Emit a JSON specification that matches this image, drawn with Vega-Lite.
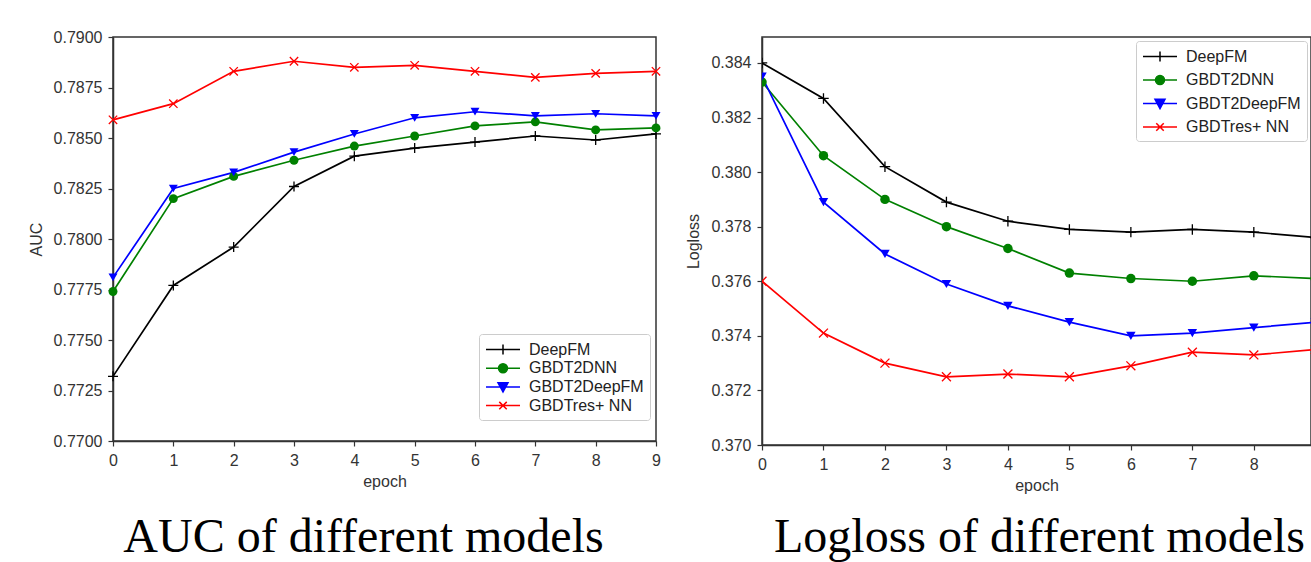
{
  "$schema": "https://vega.github.io/schema/vega-lite/v6.json",
  "background": "white",
  "padding": {"left": 27, "top": 28, "right": 0, "bottom": 0},
  "spacing": 20,
  "config": {
    "view": {"stroke": "#333", "strokeWidth": 1.5},
    "axis": {"labelFont": "Liberation Sans", "labelFontSize": 16, "labelColor": "#333", "labelPadding": 6, "titleFont": "Liberation Sans", "titleFontSize": 16, "titleFontWeight": "normal", "titleColor": "#333", "domainColor": "#333", "domainWidth": 1.5, "tickColor": "#333", "tickWidth": 1.2, "tickSize": 5, "grid": false},
    "legend": {"labelFont": "Liberation Sans", "labelFontSize": 16, "labelColor": "#222", "fillColor": "white", "strokeColor": "#cccccc", "cornerRadius": 3, "symbolStrokeWidth": 1.5, "symbolSize": 289, "labelOffset": 25}
  },
  "datasets": {
    "auc": [
      {"epoch": 0, "series": "DeepFM", "v": 0.7732}, {"epoch": 1, "series": "DeepFM", "v": 0.7777}, {"epoch": 2, "series": "DeepFM", "v": 0.7796}, {"epoch": 3, "series": "DeepFM", "v": 0.7826}, {"epoch": 4, "series": "DeepFM", "v": 0.7841}, {"epoch": 5, "series": "DeepFM", "v": 0.7845}, {"epoch": 6, "series": "DeepFM", "v": 0.7848}, {"epoch": 7, "series": "DeepFM", "v": 0.7851}, {"epoch": 8, "series": "DeepFM", "v": 0.7849}, {"epoch": 9, "series": "DeepFM", "v": 0.7852},
      {"epoch": 0, "series": "GBDT2DNN", "v": 0.7774}, {"epoch": 1, "series": "GBDT2DNN", "v": 0.7820}, {"epoch": 2, "series": "GBDT2DNN", "v": 0.7831}, {"epoch": 3, "series": "GBDT2DNN", "v": 0.7839}, {"epoch": 4, "series": "GBDT2DNN", "v": 0.7846}, {"epoch": 5, "series": "GBDT2DNN", "v": 0.7851}, {"epoch": 6, "series": "GBDT2DNN", "v": 0.7856}, {"epoch": 7, "series": "GBDT2DNN", "v": 0.7858}, {"epoch": 8, "series": "GBDT2DNN", "v": 0.7854}, {"epoch": 9, "series": "GBDT2DNN", "v": 0.7855},
      {"epoch": 0, "series": "GBDT2DeepFM", "v": 0.7781}, {"epoch": 1, "series": "GBDT2DeepFM", "v": 0.7825}, {"epoch": 2, "series": "GBDT2DeepFM", "v": 0.7833}, {"epoch": 3, "series": "GBDT2DeepFM", "v": 0.7843}, {"epoch": 4, "series": "GBDT2DeepFM", "v": 0.7852}, {"epoch": 5, "series": "GBDT2DeepFM", "v": 0.7860}, {"epoch": 6, "series": "GBDT2DeepFM", "v": 0.7863}, {"epoch": 7, "series": "GBDT2DeepFM", "v": 0.7861}, {"epoch": 8, "series": "GBDT2DeepFM", "v": 0.7862}, {"epoch": 9, "series": "GBDT2DeepFM", "v": 0.7861},
      {"epoch": 0, "series": "GBDTres+ NN", "v": 0.7859}, {"epoch": 1, "series": "GBDTres+ NN", "v": 0.7867}, {"epoch": 2, "series": "GBDTres+ NN", "v": 0.7883}, {"epoch": 3, "series": "GBDTres+ NN", "v": 0.7888}, {"epoch": 4, "series": "GBDTres+ NN", "v": 0.7885}, {"epoch": 5, "series": "GBDTres+ NN", "v": 0.7886}, {"epoch": 6, "series": "GBDTres+ NN", "v": 0.7883}, {"epoch": 7, "series": "GBDTres+ NN", "v": 0.7880}, {"epoch": 8, "series": "GBDTres+ NN", "v": 0.7882}, {"epoch": 9, "series": "GBDTres+ NN", "v": 0.7883}
    ],
    "logloss": [
      {"epoch": 0, "series": "DeepFM", "v": 0.3840}, {"epoch": 1, "series": "DeepFM", "v": 0.3827}, {"epoch": 2, "series": "DeepFM", "v": 0.3802}, {"epoch": 3, "series": "DeepFM", "v": 0.3789}, {"epoch": 4, "series": "DeepFM", "v": 0.3782}, {"epoch": 5, "series": "DeepFM", "v": 0.3779}, {"epoch": 6, "series": "DeepFM", "v": 0.3778}, {"epoch": 7, "series": "DeepFM", "v": 0.3779}, {"epoch": 8, "series": "DeepFM", "v": 0.3778}, {"epoch": 9, "series": "DeepFM", "v": 0.3776},
      {"epoch": 0, "series": "GBDT2DNN", "v": 0.3833}, {"epoch": 1, "series": "GBDT2DNN", "v": 0.3806}, {"epoch": 2, "series": "GBDT2DNN", "v": 0.3790}, {"epoch": 3, "series": "GBDT2DNN", "v": 0.3780}, {"epoch": 4, "series": "GBDT2DNN", "v": 0.3772}, {"epoch": 5, "series": "GBDT2DNN", "v": 0.3763}, {"epoch": 6, "series": "GBDT2DNN", "v": 0.3761}, {"epoch": 7, "series": "GBDT2DNN", "v": 0.3760}, {"epoch": 8, "series": "GBDT2DNN", "v": 0.3762}, {"epoch": 9, "series": "GBDT2DNN", "v": 0.3761},
      {"epoch": 0, "series": "GBDT2DeepFM", "v": 0.3835}, {"epoch": 1, "series": "GBDT2DeepFM", "v": 0.3789}, {"epoch": 2, "series": "GBDT2DeepFM", "v": 0.3770}, {"epoch": 3, "series": "GBDT2DeepFM", "v": 0.3759}, {"epoch": 4, "series": "GBDT2DeepFM", "v": 0.3751}, {"epoch": 5, "series": "GBDT2DeepFM", "v": 0.3745}, {"epoch": 6, "series": "GBDT2DeepFM", "v": 0.3740}, {"epoch": 7, "series": "GBDT2DeepFM", "v": 0.3741}, {"epoch": 8, "series": "GBDT2DeepFM", "v": 0.3743}, {"epoch": 9, "series": "GBDT2DeepFM", "v": 0.3745},
      {"epoch": 0, "series": "GBDTres+ NN", "v": 0.3760}, {"epoch": 1, "series": "GBDTres+ NN", "v": 0.3741}, {"epoch": 2, "series": "GBDTres+ NN", "v": 0.3730}, {"epoch": 3, "series": "GBDTres+ NN", "v": 0.3725}, {"epoch": 4, "series": "GBDTres+ NN", "v": 0.3726}, {"epoch": 5, "series": "GBDTres+ NN", "v": 0.3725}, {"epoch": 6, "series": "GBDTres+ NN", "v": 0.3729}, {"epoch": 7, "series": "GBDTres+ NN", "v": 0.3734}, {"epoch": 8, "series": "GBDTres+ NN", "v": 0.3733}, {"epoch": 9, "series": "GBDTres+ NN", "v": 0.3735}
    ]
  },
  "hconcat": [
    {
      "width": 543,
      "height": 404,
      "data": {"name": "auc"},
      "title": {"text": "AUC of different models", "orient": "bottom", "font": "Liberation Serif", "fontSize": 48, "fontWeight": "normal", "color": "#000", "offset": 25, "frame": "group", "dx": -21},
      "encoding": {
        "x": {"field": "epoch", "type": "quantitative", "scale": {"domain": [0, 9], "nice": false, "zero": false}, "axis": {"values": [0, 1, 2, 3, 4, 5, 6, 7, 8, 9], "format": "d", "title": "epoch", "labelFlush": false, "titlePadding": 5}},
        "y": {"field": "v", "type": "quantitative", "scale": {"domain": [0.77, 0.79], "nice": false, "zero": false}, "axis": {"values": [0.77, 0.7725, 0.775, 0.7775, 0.78, 0.7825, 0.785, 0.7875, 0.79], "format": ".4f", "title": "AUC", "labelFlush": false, "titlePadding": 9}}
      },
      "layer": [
        {"mark": {"type": "line", "strokeWidth": 1.7}, "encoding": {"color": {"field": "series", "type": "nominal", "scale": {"domain": ["DeepFM", "GBDT2DNN", "GBDT2DeepFM", "GBDTres+ NN"], "range": ["#000000", "#008000", "#0000ff", "#ff0000"]}, "legend": null}}},
        {"transform": [{"filter": "datum.series == 'DeepFM'"}], "mark": {"type": "point", "shape": "M-1,0L1,0M0,-1L0,1", "filled": false, "color": "#000000", "strokeWidth": 1.3, "size": 100, "opacity": 1}},
        {"transform": [{"filter": "datum.series == 'GBDT2DNN'"}], "mark": {"type": "point", "shape": "circle", "filled": true, "color": "#008000", "size": 80, "opacity": 1}},
        {"transform": [{"filter": "datum.series == 'GBDT2DeepFM'"}], "mark": {"type": "point", "shape": "triangle-down", "filled": true, "color": "#0000ff", "size": 80, "opacity": 1}},
        {"transform": [{"filter": "datum.series == 'GBDTres+ NN'"}], "mark": {"type": "point", "shape": "M-1,-1L1,1M-1,1L1,-1", "filled": false, "color": "#ff0000", "strokeWidth": 1.3, "size": 70, "opacity": 1}},
        {
          "data": {"values": []},
          "mark": {"type": "point", "filled": true, "opacity": 1, "strokeWidth": 1.5},
          "encoding": {
            "x": {"field": "epoch", "type": "quantitative"},
            "y": {"field": "v", "type": "quantitative"},
            "shape": {"field": "series", "type": "nominal", "scale": {"domain": ["DeepFM", "GBDT2DNN", "GBDT2DeepFM", "GBDTres+ NN"], "range": ["M-1,0L3,0M1,-0.59L1,0.59", "M-1,0L3,0M1.53,0A0.53,0.53,0,1,1,0.47,0A0.53,0.53,0,1,1,1.53,0Z", "M-1,0L3,0M0.41,-0.5L1.59,-0.5L1,0.6Z", "M-1,0L3,0M0.56,-0.44L1.44,0.44M0.56,0.44L1.44,-0.44"]}, "legend": {"title": null, "orient": "none", "legendX": 366, "legendY": 297, "padding": 6, "rowPadding": 0.7}},
            "fill": {"field": "series", "type": "nominal", "scale": {"domain": ["DeepFM", "GBDT2DNN", "GBDT2DeepFM", "GBDTres+ NN"], "range": ["#000000", "#008000", "#0000ff", "#ff0000"]}, "legend": {"title": null, "orient": "none", "legendX": 366, "legendY": 297, "padding": 6, "rowPadding": 0.7}},
            "stroke": {"field": "series", "type": "nominal", "scale": {"domain": ["DeepFM", "GBDT2DNN", "GBDT2DeepFM", "GBDTres+ NN"], "range": ["#000000", "#008000", "#0000ff", "#ff0000"]}, "legend": {"title": null, "orient": "none", "legendX": 366, "legendY": 297, "padding": 6, "rowPadding": 0.7}}
          }
        }
      ]
    },
    {
      "width": 549,
      "height": 408,
      "data": {"name": "logloss"},
      "title": {"text": "Logloss of different models", "orient": "bottom", "font": "Liberation Serif", "fontSize": 48, "fontWeight": "normal", "color": "#000", "offset": 21, "frame": "group", "dx": 3},
      "encoding": {
        "x": {"field": "epoch", "type": "quantitative", "scale": {"domain": [0, 8.93], "nice": false, "zero": false}, "axis": {"values": [0, 1, 2, 3, 4, 5, 6, 7, 8], "format": "d", "title": "epoch", "labelFlush": false, "titlePadding": 5}},
        "y": {"field": "v", "type": "quantitative", "scale": {"domain": [0.37, 0.38495], "nice": false, "zero": false}, "axis": {"values": [0.37, 0.372, 0.374, 0.376, 0.378, 0.38, 0.382, 0.384], "format": ".3f", "title": "Logloss", "labelFlush": false, "titlePadding": 9}}
      },
      "layer": [
        {"mark": {"type": "line", "strokeWidth": 1.7, "clip": true}, "encoding": {"color": {"field": "series", "type": "nominal", "scale": {"domain": ["DeepFM", "GBDT2DNN", "GBDT2DeepFM", "GBDTres+ NN"], "range": ["#000000", "#008000", "#0000ff", "#ff0000"]}, "legend": null}}},
        {"transform": [{"filter": "datum.series == 'DeepFM'"}], "mark": {"type": "point", "clip": true, "shape": "M-1,0L1,0M0,-1L0,1", "filled": false, "color": "#000000", "strokeWidth": 1.3, "size": 110, "opacity": 1}},
        {"transform": [{"filter": "datum.series == 'GBDT2DNN'"}], "mark": {"type": "point", "clip": true, "shape": "circle", "filled": true, "color": "#008000", "size": 90, "opacity": 1}},
        {"transform": [{"filter": "datum.series == 'GBDT2DeepFM'"}], "mark": {"type": "point", "clip": true, "shape": "triangle-down", "filled": true, "color": "#0000ff", "size": 90, "opacity": 1}},
        {"transform": [{"filter": "datum.series == 'GBDTres+ NN'"}], "mark": {"type": "point", "clip": true, "shape": "M-1,-1L1,1M-1,1L1,-1", "filled": false, "color": "#ff0000", "strokeWidth": 1.3, "size": 80, "opacity": 1}},
        {
          "data": {"values": []},
          "mark": {"type": "point", "filled": true, "opacity": 1, "strokeWidth": 1.5},
          "encoding": {
            "x": {"field": "epoch", "type": "quantitative"},
            "y": {"field": "v", "type": "quantitative"},
            "shape": {"field": "series", "type": "nominal", "scale": {"domain": ["DeepFM", "GBDT2DNN", "GBDT2DeepFM", "GBDTres+ NN"], "range": ["M-1,0L3,0M1,-0.59L1,0.59", "M-1,0L3,0M1.53,0A0.53,0.53,0,1,1,0.47,0A0.53,0.53,0,1,1,1.53,0Z", "M-1,0L3,0M0.41,-0.5L1.59,-0.5L1,0.6Z", "M-1,0L3,0M0.56,-0.44L1.44,0.44M0.56,0.44L1.44,-0.44"]}, "legend": {"title": null, "orient": "top-right", "offset": 4, "padding": 6, "rowPadding": 5.5}},
            "fill": {"field": "series", "type": "nominal", "scale": {"domain": ["DeepFM", "GBDT2DNN", "GBDT2DeepFM", "GBDTres+ NN"], "range": ["#000000", "#008000", "#0000ff", "#ff0000"]}, "legend": {"title": null, "orient": "top-right", "offset": 4, "padding": 6, "rowPadding": 5.5}},
            "stroke": {"field": "series", "type": "nominal", "scale": {"domain": ["DeepFM", "GBDT2DNN", "GBDT2DeepFM", "GBDTres+ NN"], "range": ["#000000", "#008000", "#0000ff", "#ff0000"]}, "legend": {"title": null, "orient": "top-right", "offset": 4, "padding": 6, "rowPadding": 5.5}}
          }
        }
      ]
    }
  ]
}
